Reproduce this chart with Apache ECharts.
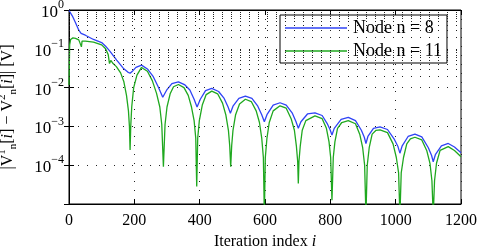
<!DOCTYPE html>
<html>
<head>
<meta charset="utf-8">
<script src="https://cdn.jsdelivr.net/npm/echarts@6/dist/echarts.min.js"></script>
<style>html,body{margin:0;padding:0;background:#fff;}#c{width:490px;height:247px;}</style>
</head>
<body>
<div id="c"></div>
<script>
// Iteration index and |V1-V2| for node n = 8
var n8Iter = [0,10,20,30,37,50,75,100,112,125,146,166,180,187,195,205,222,240,258,273,287,300,315,335,355,370,383,392,402,418,437,458,475,487,494,502,520,540,560,578,590,598,606,625,646,665,683,695,702,710,730,753,775,790,799,805,812,833,855,877,895,904,909,915,932,952,975,995,1007,1013,1020,1038,1059,1080,1100,1110,1115,1122,1140,1161,1180,1200];
var n8Vals = [0.97,0.708,0.468,0.302,0.251,0.224,0.174,0.145,0.117,0.0871,0.0513,0.0316,0.0251,0.0234,0.0269,0.0331,0.0380,0.0302,0.0191,0.0105,0.00562,0.00891,0.0126,0.0141,0.0117,0.00871,0.00501,0.00316,0.00501,0.00832,0.00955,0.00794,0.00525,0.00316,0.00219,0.00331,0.00525,0.00603,0.00525,0.00331,0.00200,0.00132,0.00200,0.00355,0.00407,0.00355,0.00224,0.00132,0.000891,0.00132,0.00209,0.00224,0.00191,0.00120,0.000832,0.000603,0.000891,0.00151,0.00170,0.00141,0.000794,0.000525,0.000363,0.000550,0.000891,0.000977,0.000832,0.000479,0.000302,0.000204,0.000316,0.000550,0.000631,0.000537,0.000282,0.000178,0.000123,0.000191,0.000316,0.000363,0.000295,0.000209];
// node n = 11
var n11Iter = [0,2,5,12,20,30,36,38,40,50,75,100,112,120,124,128,135,145,158,168,176,182,185,187,189,192,198,208,222,240,255,268,278,284,289,294,300,310,320,335,352,365,375,383,388,391,394,399,408,420,437,455,470,480,488,492,495,498,502,510,522,540,558,573,583,590,595,598,601,606,613,625,646,665,680,690,696,700,702,704,708,714,725,753,775,788,796,801,805,809,814,822,835,855,877,890,899,905,909,913,919,928,940,952,975,992,1002,1009,1013,1017,1024,1034,1045,1059,1080,1095,1105,1111,1115,1119,1125,1136,1161,1180,1200];
var n11Vals = [0.0117,0.126,0.174,0.191,0.186,0.170,0.158,0.112,0.158,0.158,0.148,0.126,0.100,0.0708,0.0417,0.0501,0.0417,0.0347,0.0240,0.0141,0.00631,0.00251,0.00100,0.000245,0.00100,0.00316,0.0100,0.0209,0.0331,0.0263,0.0151,0.00708,0.00316,0.00112,0.0000912,0.00112,0.00316,0.00708,0.0105,0.0120,0.0100,0.00631,0.00316,0.00141,0.000501,0.0000282,0.000501,0.00141,0.00355,0.00661,0.00813,0.00692,0.00398,0.00200,0.000794,0.000316,0.0000912,0.000316,0.000794,0.00200,0.00380,0.00501,0.00437,0.00251,0.00126,0.000501,0.000158,0.00000501,0.000158,0.000501,0.00126,0.00251,0.00339,0.00295,0.00158,0.000794,0.000316,0.000126,0.0000339,0.000126,0.000316,0.000794,0.00141,0.00186,0.00158,0.000891,0.000398,0.000158,0.0000126,0.000158,0.000398,0.000891,0.00126,0.00141,0.00117,0.000631,0.000282,0.000100,0.00000501,0.000100,0.000282,0.000631,0.000794,0.000813,0.000692,0.000355,0.000158,0.0000631,0.00000501,0.0000631,0.000158,0.000355,0.000479,0.000525,0.000447,0.000240,0.000112,0.0000398,0.00000501,0.0000398,0.000112,0.000240,0.000302,0.000240,0.000166];
var seriesNames = ['Node n = 8', 'Node n = 11'];
var xTicks = [0, 200, 400, 600, 800, 1000, 1200];

var FONT = 'Liberation Serif';
function pairs(a, b) { return a.map(function (v, k) { return [v, b[k]]; }); }
var minorLines = [];
for (var e = -5; e < 0; e++) {
  for (var k = 2; k <= 9; k++) minorLines.push({ yAxis: k * Math.pow(10, e) });
}
var dotted = { color: '#222', width: 1, type: [1, 8] };
var rich = {
  b: { fontFamily: FONT, fontSize: 17, color: '#000', lineHeight: 22, verticalAlign: 'bottom' },
  s: { fontFamily: FONT, fontSize: 12, color: '#000', lineHeight: 12, verticalAlign: 'top' }
};
var chart = echarts.init(document.getElementById('c'), null, { renderer: 'canvas' });
chart.setOption({
  animation: false,
  backgroundColor: '#fff',
  grid: { left: 69, right: 29, top: 10, bottom: 43, containLabel: false, outerBoundsMode: 'none', show: true, borderColor: '#000', borderWidth: 1, backgroundColor: 'transparent' },
  legend: {
    data: seriesNames, orient: 'vertical', left: 280, top: 15,
    icon: 'rect', itemWidth: 62, itemHeight: 1.5, itemGap: 5,
    padding: [4, 5, 3, 5],
    backgroundColor: '#fff', borderColor: '#000', borderWidth: 1,
    textStyle: { fontFamily: FONT, fontSize: 18, color: '#000', padding: [0, 0, 0, 1] }
  },
  xAxis: [{
    type: 'value', min: xTicks[0], max: xTicks[xTicks.length - 1], interval: 200,
    axisLine: { lineStyle: { color: '#000' } },
    axisTick: { inside: true, length: 5, lineStyle: { color: '#000' } },
    axisLabel: { fontFamily: FONT, fontSize: 16, color: '#000', margin: 9, formatter: function (v) { return String(v); } },
    splitLine: { show: true, lineStyle: dotted },
    name: 'Iteration index {it|i}', nameLocation: 'middle', nameGap: 27,
    nameTextStyle: { fontFamily: FONT, fontSize: 16, color: '#000', rich: { it: { fontFamily: FONT, fontSize: 16, fontStyle: 'italic', color: '#000' } } }
  }, {
    type: 'value', position: 'top', min: 0, max: 1200, interval: 200,
    axisLine: { lineStyle: { color: '#000' } },
    axisTick: { inside: true, length: 5, lineStyle: { color: '#000' } },
    axisLabel: { show: false }, splitLine: { show: false }
  }],
  yAxis: [{
    type: 'log', logBase: 10, min: 1e-5, max: 1, interval: 1,
    axisLine: { show: true, lineStyle: { color: '#000' } },
    axisTick: { inside: true, length: 5, lineStyle: { color: '#000' } },
    axisLabel: {
      margin: 5,
      formatter: function (v) {
        var ex = Math.round(Math.log10(v));
        if (ex <= -5) return '';
        return '{b|10}{s|' + (ex < 0 ? '\u2212' + (-ex) : ex) + '}';
      },
      rich: rich
    },
    splitLine: { show: true, lineStyle: dotted },
    minorTick: { show: false },
    name: '|V{sp|1}{sb|n}[{it|i}] \u2212 V{sp|2}{sb|n}[{it|i}]| [V]',
    nameLocation: 'middle', nameGap: 50, nameRotate: 90,
    nameTextStyle: {
      fontFamily: FONT, fontSize: 16, color: '#000', lineHeight: 22,
      rich: {
        sp: { fontFamily: FONT, fontSize: 11, color: '#000', lineHeight: 11, verticalAlign: 'top' },
        sb: { fontFamily: FONT, fontSize: 11, color: '#000', lineHeight: 11, verticalAlign: 'bottom' },
        it: { fontFamily: FONT, fontSize: 16, fontStyle: 'italic', color: '#000' }
      }
    }
  }, {
    type: 'log', logBase: 10, min: 1e-5, max: 1, interval: 1, position: 'right',
    axisLine: { show: true, lineStyle: { color: '#000' } },
    axisTick: { inside: true, length: 5, lineStyle: { color: '#000' } },
    axisLabel: { show: false }, splitLine: { show: false }
  }],
  series: [{
    name: 'grid', type: 'line', data: [], silent: true,
    markLine: { silent: true, symbol: 'none', label: { show: false }, lineStyle: dotted, animation: false, data: minorLines }
  }, {
    name: seriesNames[0], type: 'line', data: pairs(n8Iter, n8Vals),
    showSymbol: false, symbol: 'none', clip: true,
    lineStyle: { color: '#2f43f5', width: 1.3 }, itemStyle: { color: '#2f43f5' }
  }, {
    name: seriesNames[1], type: 'line', data: pairs(n11Iter, n11Vals),
    showSymbol: false, symbol: 'none', clip: true,
    lineStyle: { color: '#1fa81f', width: 1.3 }, itemStyle: { color: '#1fa81f' }
  }]
});
</script>
</body>
</html>
